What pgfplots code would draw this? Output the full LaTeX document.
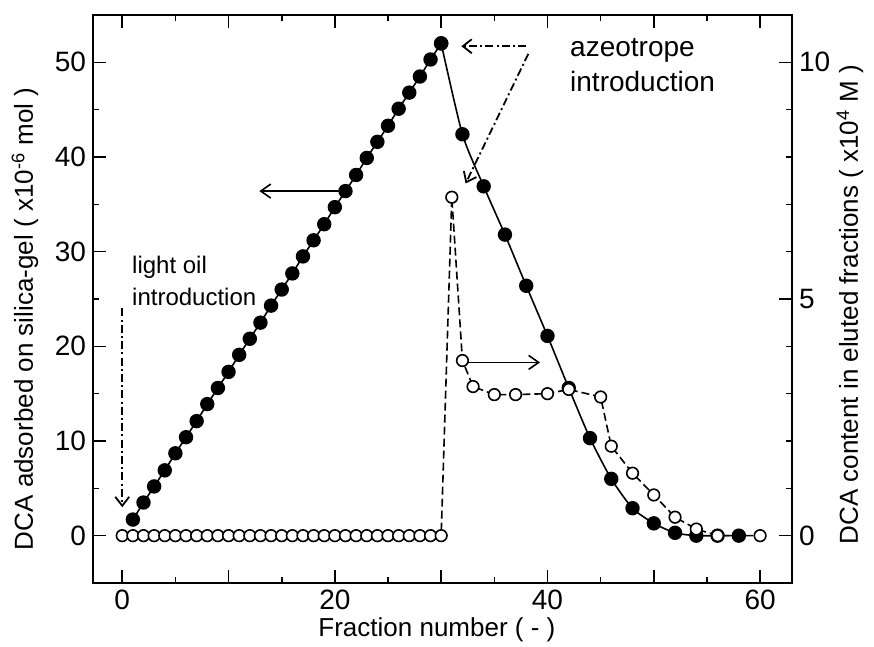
\documentclass[border=0pt]{standalone}
\usepackage{fontspec}
\setmainfont{Liberation Sans}
\usepackage{pgfplots}
\pgfplotsset{compat=1.18}
\usetikzlibrary{arrows.meta}

\pgfplotsset{
  common/.style={
    at={(0,0)}, anchor=south west, scale only axis,
    width=349.5pt, height=284pt,
    xmin=-2.75, xmax=63,
    tick align=inside,
    major tick length=6.5pt, minor tick length=3.2pt,
    axis line style={line width=1.1pt},
    every tick/.style={line width=0.8pt, black},
    /pgf/number format/assume math mode=true,
    tick label style={font=\fontsize{14}{16}\selectfont},
    label style={font=\fontsize{13}{15}\selectfont},
    clip=false,
  },
}

\begin{document}
\begin{tikzpicture}
\useasboundingbox (-46.5pt,-32pt) rectangle (390.5pt,291.5pt);
\begin{axis}[common,
  ymin=-5, ymax=55,
  xtick={0,10,...,60}, xticklabels={0,,20,,40,,60},
  minor xtick={5,15,...,55},
  ytick={0,10,...,50}, minor ytick={5,15,...,45},
  ytick pos=left, xtick pos=both,
  xlabel={Fraction number ( - )},
  ylabel={DCA adsorbed on silica-gel ( x10\textsuperscript{-6} mol )},
  xlabel style={at={(axis description cs:0.492,-0.082)}, anchor=center},
  ylabel style={at={(axis description cs:-0.0973,0.465)}, anchor=center},
]
% rising part
\addplot[black, line width=0.8pt, mark=*, mark size=3.2pt, mark options={fill=black}] coordinates {
(1,1.7) (2,3.5) (3,5.2) (4,6.9) (5,8.7) (6,10.4) (7,12.1) (8,13.9) (9,15.6) (10,17.3)
(11,19.1) (12,20.8) (13,22.5) (14,24.3) (15,26.0) (16,27.7) (17,29.5) (18,31.2) (19,32.9) (20,34.7)
(21,36.4) (22,38.1) (23,39.9) (24,41.6) (25,43.3) (26,45.1) (27,46.8) (28,48.5) (29,50.3) (30,52.0)
};
% falling part
\addplot[black, line width=0.8pt, smooth, tension=0.4, mark=*, mark size=3.2pt, mark options={fill=black}] coordinates {
(30,52.0) (32,42.4) (34,36.9) (36,31.8) (38,26.4) (40,21.1) (42,15.6) (44,10.3)
(46,6.0) (48,2.9) (50,1.3) (52,0.3) (54,0.0) (56,0.0) (58,0.0)
};
% annotations
\draw[line width=0.9pt, dash pattern=on 4pt off 1.6pt on 1pt off 1.6pt, -{Straight Barb[length=4.5pt,width=7pt]}]
  (axis cs:0,24.0) -- (axis cs:0,3.0);
\draw[line width=0.9pt, dash pattern=on 4pt off 1.6pt on 1pt off 1.6pt, -{Straight Barb[length=4.5pt,width=7pt]}]
  (axis cs:38.0,51.7) -- (axis cs:31.9,51.7);
\draw[line width=0.9pt, dash pattern=on 4pt off 1.6pt on 1pt off 1.6pt, -{Straight Barb[length=4.5pt,width=7pt]}]
  (axis cs:38.2,50.9) -- (axis cs:32.3,37.2);
\draw[line width=0.8pt, -{Straight Barb[length=5pt,width=7pt]}]
  (axis cs:21,36.4) -- (axis cs:12.9,36.4);
\draw[line width=0.8pt, -{Straight Barb[length=5pt,width=7pt]}]
  (axis cs:32,18.3) -- (axis cs:39.3,18.3);
\node[anchor=west, align=left, font=\fontsize{12}{16}\selectfont, inner sep=0pt]
  at (axis cs:0.9,26.9) {light oil\\introduction};
\node[anchor=west, align=left, font=\fontsize{14}{17.5}\selectfont, inner sep=0pt]
  at (axis cs:42.1,49.7) {azeotrope\\introduction};
\end{axis}

\begin{axis}[common,
  ymin=-1, ymax=11,
  axis x line=none, axis y line*=right,
  ytick={0,5,10}, minor ytick={1,2,3,4,6,7,8,9},
  ylabel={DCA content in eluted fractions ( x10\textsuperscript{4} M )},
  ylabel style={at={(axis description cs:1.083,0.49)}, anchor=center, rotate=0},
]
\addplot[black, line width=0.8pt, dash pattern=on 4pt off 2pt, mark=*, mark size=2.9pt,
  mark options={solid, fill=white, draw=black, line width=0.8pt}] coordinates {
(0,0) (1,0) (2,0) (3,0) (4,0) (5,0) (6,0) (7,0) (8,0) (9,0) (10,0)
(11,0) (12,0) (13,0) (14,0) (15,0) (16,0) (17,0) (18,0) (19,0) (20,0)
(21,0) (22,0) (23,0) (24,0) (25,0) (26,0) (27,0) (28,0) (29,0) (30,0)
(31,7.15) (32,3.7) (33,3.15) (35,2.98) (37,2.98) (40,3.0) (42,3.09) (45,2.93)
(46,1.89) (48,1.32) (50,0.86) (52,0.39) (54,0.14) (56,0) (60,0)
};
\end{axis}
\end{tikzpicture}
\end{document}
